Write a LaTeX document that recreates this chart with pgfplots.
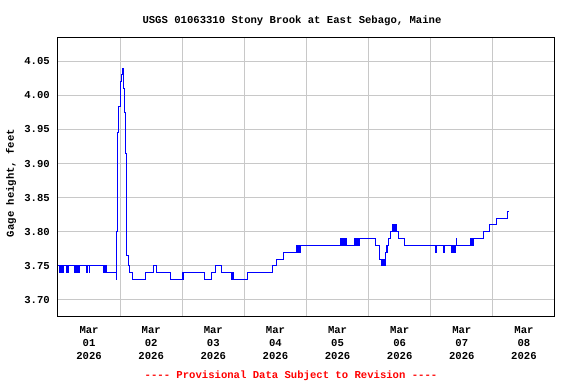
\documentclass[border=0pt]{standalone}
\usepackage{pgfplots}
\pgfplotsset{compat=1.18}
\usepackage{fontspec}
\setmainfont{Liberation Mono}
\definecolor{gridgray}{RGB}{200,200,200}
\begin{document}
\begin{tikzpicture}[font=\fontsize{10.6bp}{13bp}\selectfont\bfseries]
\path[use as bounding box] (-58bp,-68bp) rectangle (518bp,316bp);
\begin{axis}[
  at={(0,0)}, anchor=south west,
  scale only axis, width=497bp, height=278bp,
  xmin=0, xmax=8, ymin=3.6765, ymax=4.084,
  xtick={0.5,1.5,...,7.5},
  xticklabels={{Mar\\01\\2026},{Mar\\02\\2026},{Mar\\03\\2026},{Mar\\04\\2026},{Mar\\05\\2026},{Mar\\06\\2026},{Mar\\07\\2026},{Mar\\08\\2026}},
  minor xtick={1,2,...,7},
  ytick={3.70,3.75,3.80,3.85,3.90,3.95,4.00,4.05},
  major tick length=0pt, minor tick length=0pt,
  xmajorgrids=false, xminorgrids=true, ymajorgrids=true,
  grid style={gridgray, line width=1bp},
  minor grid style={gridgray, line width=1bp},
  axis line style={black, line width=1bp},
  /pgf/number format/.cd, fixed, fixed zerofill, precision=2, assume math mode=true,
  /pgfplots/.cd,
  xticklabel style={align=center, anchor=north, inner sep=0pt, yshift=-10bp, font=\fontsize{10.6bp}{13bp}\selectfont\bfseries},
  yticklabel style={anchor=east, inner sep=0pt, xshift=-8bp, font=\fontsize{10.6bp}{13bp}\selectfont\bfseries},
  clip=true,
]
\addplot[const plot, blue, line width=1bp] coordinates {
(0,3.75) (0.02,3.74) (0.03,3.75) (0.035,3.74) (0.05,3.75) (0.055,3.74) (0.07,3.75) (0.075,3.74) (0.09,3.75)
(0.14,3.74) (0.15,3.75) (0.16,3.74) (0.17,3.75)
(0.258,3.74) (0.268,3.75) (0.275,3.74) (0.285,3.75) (0.29,3.74) (0.30,3.75) (0.315,3.74) (0.325,3.75) (0.335,3.74) (0.345,3.75)
(0.462,3.74) (0.47,3.75) (0.505,3.74) (0.515,3.75)
(0.726,3.74) (0.735,3.75) (0.742,3.74) (0.75,3.75) (0.755,3.74) (0.765,3.75) (0.775,3.74)
(0.935,3.73) (0.94,3.74) (0.946,3.80) (0.963,3.945) (0.979,3.984) (1.0,4.02) (1.016,4.03) (1.032,4.04)
(1.054,4.01) (1.065,3.975) (1.081,3.915) (1.097,3.84) (1.108,3.765) (1.129,3.75) (1.15,3.74) (1.183,3.74) (1.194,3.73)
(1.409,3.74) (1.538,3.75) (1.591,3.74) (1.806,3.73)
(2.011,3.74) (2.016,3.73) (2.027,3.74)
(2.355,3.73) (2.473,3.74) (2.538,3.75) (2.624,3.74)
(2.785,3.73) (2.79,3.74) (2.80,3.73) (2.81,3.74) (2.82,3.73)
(3.054,3.74) (3.452,3.75) (3.516,3.76) (3.634,3.77)
(3.84,3.78) (3.85,3.77) (3.86,3.78) (3.87,3.77) (3.88,3.78) (3.895,3.77) (3.905,3.78)
(4.543,3.79) (4.555,3.78) (4.565,3.79) (4.575,3.78) (4.585,3.79) (4.595,3.78) (4.605,3.79) (4.615,3.78) (4.63,3.79) (4.64,3.78)
(4.769,3.79) (4.78,3.78) (4.79,3.79) (4.80,3.78) (4.81,3.79) (4.82,3.78) (4.83,3.79) (4.845,3.78) (4.855,3.79)
(5.108,3.78) (5.177,3.76)
(5.21,3.75) (5.218,3.76) (5.225,3.75) (5.233,3.76) (5.25,3.75) (5.258,3.76) (5.265,3.75) (5.275,3.77) (5.285,3.78) (5.29,3.77) (5.30,3.78)
(5.317,3.79) (5.349,3.80) (5.38,3.81) (5.39,3.80) (5.40,3.81) (5.41,3.80) (5.42,3.81) (5.43,3.80) (5.44,3.81) (5.446,3.80)
(5.489,3.79) (5.575,3.78)
(6.081,3.77) (6.09,3.78) (6.205,3.77) (6.215,3.78)
(6.328,3.77) (6.34,3.78) (6.35,3.77) (6.37,3.78) (6.38,3.77) (6.395,3.78) (6.414,3.79) (6.42,3.78)
(6.64,3.79) (6.65,3.78) (6.66,3.79) (6.67,3.78) (6.683,3.79)
(6.844,3.80) (6.941,3.81) (7.059,3.82) (7.242,3.83) (7.25,3.83)
};
\end{axis}
\node[anchor=base] at (234bp,292.5bp) {USGS 01063310 Stony Brook at East Sebago, Maine};
\node[rotate=90, anchor=center] at (-47bp,133bp) {Gage height, feet};
\node[anchor=base, text=red] at (233bp,-62bp) {-{}-{}-{}- Provisional Data Subject to Revision -{}-{}-{}-};
\end{tikzpicture}
\end{document}
